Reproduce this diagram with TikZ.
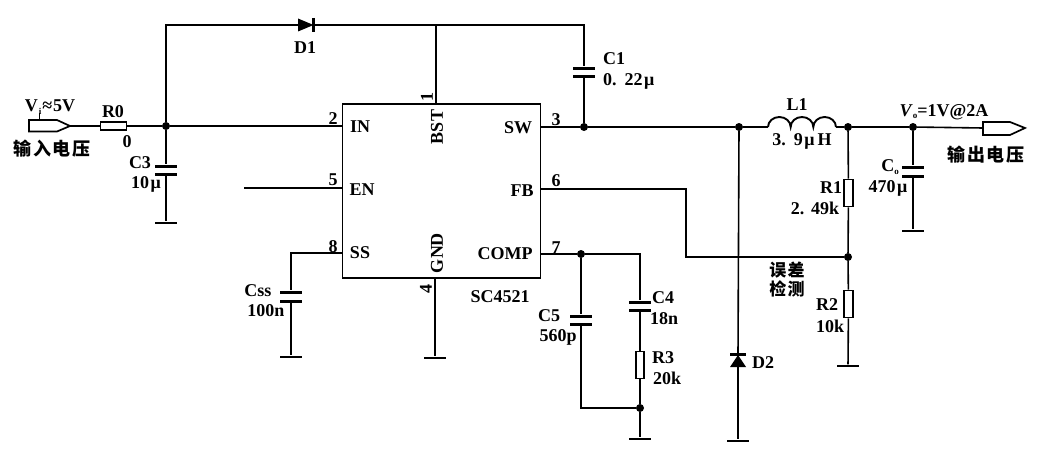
\documentclass[tikz,border=0pt]{standalone}
\usepackage{fontspec}
\setmainfont{Liberation Serif}
\newfontfamily\cjk{Noto Sans CJK SC}[LetterSpace=8]
\newcommand{\subt}[1]{\raisebox{-2.5pt}{\fontsize{9}{9}\selectfont #1}}
\newcommand{\mug}{\hspace{1.5pt}μ}
\tikzset{
  wire/.style={line width=1.6pt,black},
  lbl/.style={inner sep=0pt,font=\fontsize{18}{18}\selectfont\bfseries},
  cjklbl/.style={inner sep=0pt,font=\fontsize{18}{18}\selectfont\cjk\bfseries},
  plate/.style={fill=black,inner sep=0pt,minimum width=22pt,minimum height=3pt},
  gnd/.style={fill=black,inner sep=0pt,minimum width=22pt,minimum height=2.8pt},
  jct/.style={circle,fill=black,inner sep=0pt,minimum size=8pt},
  rh/.style={draw,line width=1.9pt,fill=white,inner sep=0pt,minimum width=26pt,minimum height=8.5pt},
  rv/.style={draw,line width=1.9pt,fill=white,inner sep=0pt,minimum width=8.5pt,minimum height=27pt},
  chipbox/.style={draw,line width=1.7pt,inner sep=0pt,minimum width=198pt,minimum height=174pt},
  port/.style={line width=1.7pt,black,line join=miter}
}
\begin{document}
\begin{tikzpicture}[x=1pt,y=-1pt]
\useasboundingbox[fill=white] (0,0) rectangle (1040,460);
% chip
\node[chipbox] (chip) at (441.5,191) {};
\coordinate (p2) at (342.5,126);
\coordinate (p5) at (342.5,188);
\coordinate (p8) at (342.5,253);
\coordinate (p1) at (436,104);
\coordinate (p4) at (435,278);
\coordinate (p3) at (540.5,127);
\coordinate (p6) at (540.5,189);
\coordinate (p7) at (540.5,254);
% junctions
\node[jct] (j1) at (166,126) {};
\node[jct] (j2) at (584,127) {};
\node[jct] (j3) at (739,127) {};
\node[jct] (j4) at (848,127) {};
\node[jct] (j5) at (913,127) {};
\node[jct] (j6) at (848,257) {};
\node[jct] (j7) at (581,254) {};
\node[jct] (j8) at (640,408) {};
\coordinate (top1) at (166,25);
\coordinate (top2) at (436,25);
\coordinate (top3) at (584,25);
\coordinate (c4t) at (640,254);
\coordinate (c5b) at (581,408);
\coordinate (fb1) at (686,189);
\coordinate (fb2) at (686,257);
\coordinate (sscorner) at (291,253);
\coordinate (enfree) at (244,188);
% input / output ports
\coordinate (inL) at (29,126);
\coordinate (inT) at (70,126);
\coordinate (outL) at (983,128);
\coordinate (outT) at (1025,128);
\coordinate (vis) at (39,113);
\coordinate (vie) at (39,120);
\draw[port] (29,120) -- (57,120) -- (inT) -- (57,131.5) -- (29,131.5) -- cycle;
\draw[port] (983,122) -- (1010,122) -- (outT) -- (1010,135) -- (983,135) -- cycle;
\draw[line width=1pt] (vis) -- (vie);
% resistors
\node[rh] (R0) at (113.5,126) {};
\node[rv] (R1) at (848.5,193) {};
\node[rv] (R2) at (848.5,304) {};
\node[rv] (R3) at (640,365) {};
% capacitor plates
\node[plate] (C3a) at (166,166) {};
\node[plate] (C3b) at (166,174) {};
\node[plate] (C1a) at (584,68) {};
\node[plate] (C1b) at (584,76) {};
\node[plate] (Cssa) at (291,292) {};
\node[plate] (Cssb) at (291,301) {};
\node[plate] (C5a) at (581,316) {};
\node[plate] (C5b) at (581,324) {};
\node[plate] (C4a) at (640,302) {};
\node[plate] (C4b) at (640,310) {};
\node[plate] (Coa) at (913,167) {};
\node[plate] (Cob) at (913,176) {};
% grounds
\node[gnd] (g1) at (166,223) {};
\node[gnd] (g2) at (291,357) {};
\node[gnd] (g3) at (435,358) {};
\node[gnd] (g4) at (640,439) {};
\node[gnd] (g5) at (738,441) {};
\node[gnd] (g6) at (848,366) {};
\node[gnd] (g7) at (913,231) {};
% diodes
\coordinate (D1a) at (298,25);
\coordinate (D1k) at (313.5,25);
\fill (D1a) ++(0,-6.5) -- (D1k) -- (298,31.5) -- cycle;
\draw[line width=2.2pt] (313.5,18) -- (313.5,32);
\coordinate (D2a) at (738,367);
\coordinate (D2k) at (738,355);
\fill (730,367) -- (D2k) -- (746,367) -- cycle;
\draw[line width=2.2pt] (730,354.5) -- (746,354.5);
% inductor
\coordinate (L1a) at (768,127);
\coordinate (L1b) at (836,127);
\draw[line width=1.9pt] (L1a) arc[start angle=180,end angle=360,x radius=11.33,y radius=10]
  arc[start angle=180,end angle=360,x radius=11.33,y radius=10]
  arc[start angle=180,end angle=360,x radius=11.33,y radius=10];
% wires
\draw[wire] (inT) -- (R0) -- (j1) -- (p2);
\draw[wire] (j1) -- (top1) -- (D1a);
\draw[wire] (D1k) -- (top2) -- (top3) -- (C1a);
\draw[wire] (top2) -- (p1);
\draw[wire] (C1b) -- (j2);
\draw[wire] (p3) -- (j2) -- (j3) -- (L1a);
\draw[wire] (L1b) -- (j4) -- (j5) -- (outL);
\draw[wire] (j1) -- (C3a); \draw[wire] (C3b) -- (g1);
\draw[wire] (enfree) -- (p5);
\draw[wire] (p8) -- (sscorner) -- (Cssa); \draw[wire] (Cssb) -- (g2);
\draw[wire,line width=2pt] (p4) -- (g3);
\draw[wire] (p7) -- (j7) -- (c4t) -- (C4a);
\draw[wire] (C4b) -- (R3) -- (j8) -- (g4);
\draw[wire] (j7) -- (C5a); \draw[wire] (C5b) -- (c5b) -- (j8);
\draw[wire] (p6) -- (fb1) -- (fb2) -- (j6);
\draw[wire] (j3) -- (D2k); \draw[wire] (D2a) -- (g5);
\draw[wire] (j4) -- (R1) -- (j6) -- (R2) -- (g6);
\draw[wire] (j5) -- (Coa); \draw[wire] (Cob) -- (g7);
% text
\node[lbl] (tvi) at (50,107) {V\hspace{1pt}\subt{i}\hspace{1pt}≈\hspace{1pt}5V};
\node[lbl] (tr0) at (113,112) {R0};
\node[lbl] (tr0v) at (127,142) {0};
\node[cjklbl] (tin) at (52,149) {输入电压};
\node[lbl] (tc3) at (140,163) {C3};
\node[lbl] (tc3v) at (146,184) {10\mug};
\node[lbl] (td1) at (305,48) {D1};
\node[lbl,anchor=west] (tc1) at (603,59) {C1};
\node[lbl,anchor=west] (tc1v) at (603,81) {0.\hspace{2pt} 22\mug};
\node[lbl,rotate=90] (tp1) at (427,97) {1};
\node[lbl,rotate=90] (tbst) at (437,127) {BST};
\node[lbl] (tp2) at (333,119) {2};
\node[lbl] (tin2) at (360,127) {IN};
\node[lbl] (tp5) at (333,180) {5};
\node[lbl] (ten) at (362,190) {EN};
\node[lbl] (tp8) at (333,247) {8};
\node[lbl] (tss) at (360,253) {SS};
\node[lbl,rotate=90] (tgnd) at (437,253) {GND};
\node[lbl,rotate=90] (tp4) at (426,289) {4};
\node[lbl] (tname) at (500,297) {SC4521};
\node[lbl] (tsw) at (518,128) {SW};
\node[lbl] (tfb) at (522,191) {FB};
\node[lbl] (tcomp) at (505,254) {COMP};
\node[lbl] (tp3) at (556,120) {3};
\node[lbl] (tp6) at (556,181) {6};
\node[lbl] (tp7) at (556,248) {7};
\node[lbl] (tl1) at (797,105) {L1};
\node[lbl] (tl1v) at (802,141) {3.\hspace{2pt} 9\mug\hspace{3pt}H};
\node[lbl] (tvo) at (944,112) {\textit{V}\subt{o}=1V@2A};
\node[cjklbl] (tout) at (986,155) {输出电压};
\node[lbl] (tco) at (890,167) {C\subt{o}};
\node[lbl] (tcov) at (888,188) {470\mug};
\node[lbl] (tr1) at (831,188) {R1};
\node[lbl] (tr1v) at (815,208) {2.\hspace{1pt} 49k};
\node[cjklbl,font=\fontsize{17}{17}\selectfont\cjk\bfseries] (terr1) at (787,270) {误差};
\node[cjklbl,font=\fontsize{17}{17}\selectfont\cjk\bfseries] (terr2) at (787,289) {检测};
\node[lbl] (tr2) at (827,305) {R2};
\node[lbl] (tr2v) at (830,326) {10k};
\node[lbl] (td2) at (763,363) {D2};
\node[lbl] (tcss) at (258,291) {Css};
\node[lbl] (tcssv) at (266,311) {100n};
\node[lbl] (tc5) at (549,316) {C5};
\node[lbl] (tc5v) at (558,337) {560p};
\node[lbl] (tc4) at (663,298) {C4};
\node[lbl] (tc4v) at (664,319) {18n};
\node[lbl] (tr3) at (663,358) {R3};
\node[lbl] (tr3v) at (667,378) {20k};
\end{tikzpicture}
\end{document}
